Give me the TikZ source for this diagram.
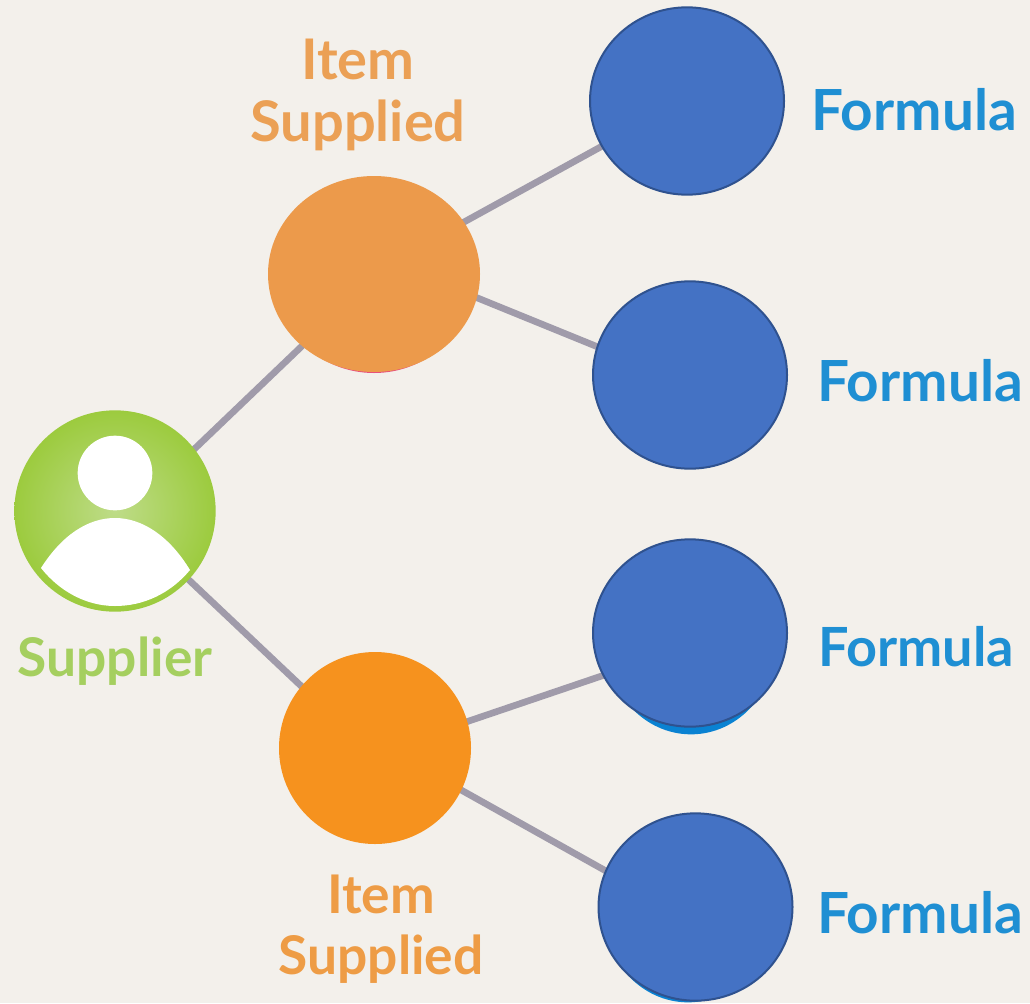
\documentclass[tikz,border=0pt]{standalone}
\usepackage{fontspec}
\setmainfont{Lato}
\usetikzlibrary{shapes.geometric,backgrounds}
\definecolor{pagebg}{HTML}{F3F0EB}
\definecolor{blueFill}{HTML}{4472C4}
\definecolor{blueEdge}{HTML}{2F528F}
\definecolor{cyanUnder}{HTML}{0A82D2}
\definecolor{orangeA}{HTML}{EC9A4B}
\definecolor{orangeB}{HTML}{F6921E}
\definecolor{pinkUnder}{HTML}{E8507A}
\definecolor{linkGrey}{HTML}{A09BAA}
\definecolor{greenOuter}{HTML}{9CCB3E}
\definecolor{greenInner}{HTML}{BEDC88}
\definecolor{greenText}{HTML}{A5CF5F}
\definecolor{orangeText}{HTML}{EBA055}
\definecolor{orangeTextB}{HTML}{EE9C45}
\definecolor{blueText}{HTML}{1F8FD3}
\tikzset{
  x=0.75pt,y=-0.75pt,
  formulaDisc/.style={ellipse,inner sep=0pt,minimum width=145.5pt,minimum height=140.5pt,fill=blueFill,draw=blueEdge,line width=1.5pt},
  underDisc/.style={ellipse,inner sep=0pt,minimum width=128pt,minimum height=140pt,fill=cyanUnder},
  link/.style={draw=linkGrey,line width=5pt,shorten <=-3pt,shorten >=-3pt},
  formulaLabel/.style={font=\fontsize{42.5pt}{42.5pt}\selectfont\bfseries,text=blueText,inner sep=0pt},
  formulaLabelSmall/.style={font=\fontsize{40.5pt}{40.5pt}\selectfont\bfseries,text=blueText,inner sep=0pt},
  itemLabelA/.style={font=\fontsize{42pt}{46.5pt}\selectfont\bfseries,align=center,inner sep=0pt},
  itemLabelB/.style={font=\fontsize{40pt}{46pt}\selectfont\bfseries,align=center,inner sep=0pt},
  supplierLabel/.style={font=\fontsize{40pt}{40pt}\selectfont\bfseries,text=greenText,inner sep=0pt}
}
\begin{document}
\begin{tikzpicture}
\useasboundingbox (0,0) rectangle (1030,1003);
\begin{scope}[on background layer]
  \fill[pagebg] (0,0) rectangle (1030,1003);
\end{scope}
% undersides that show beneath the discs
\node[ellipse,inner sep=0pt,minimum width=150pt,minimum height=147pt,fill=pinkUnder] (o1under) at (374,275) {};
\node[underDisc] (b3under) at (691,641) {};
\node[underDisc] (b4under) at (688,909) {};
% discs
\node[ellipse,inner sep=0pt,minimum width=159pt,minimum height=147pt,fill=orangeA] (o1) at (374,274) {};
\node[circle,inner sep=0pt,minimum size=144pt,fill=orangeB] (o2) at (375,748) {};
\node[formulaDisc] (b1) at (687,101) {};
\node[formulaDisc] (b2) at (690,375) {};
\node[formulaDisc] (b3) at (690,633) {};
\node[formulaDisc] (b4) at (695.5,907) {};
% supplier
\node[circle,inner sep=0pt,minimum size=151pt,inner color=greenInner,outer color=greenOuter] (sup) at (115,511) {};
\node[circle,inner sep=0pt,minimum size=56pt,fill=white] (head) at (115,473) {};
\fill[white] (41,568) .. controls (62,535) and (88,518) .. (115,518)
  .. controls (143,518) and (170,537) .. (190,570)
  .. controls (170,594) and (143,606) .. (115,606)
  .. controls (87,606) and (60,592) .. (41,568) -- cycle;
% connectors
\begin{scope}[on background layer]
  \draw[link] (sup.38) -- (o1.225);
  \draw[link] (sup.-43) -- (o2.140);
  \draw[link] (o1.30) -- (b1.208);
  \draw[link] (o1.-13) -- (b2.163);
  \draw[link] (o2.16) -- (b3.206);
  \draw[link] (o2.-26) -- (b4.158);
\end{scope}
% labels
\node[itemLabelA,text=orangeText] (lab1) at (358,95) {Item\\Supplied};
\node[itemLabelB,text=orangeTextB] (lab2) at (381,929) {Item\\Supplied};
\node[supplierLabel] (lab3) at (115,661) {Supplier};
\node[formulaLabel] (f1) at (914,110) {Formula};
\node[formulaLabel] (f2) at (920,381) {Formula};
\node[formulaLabelSmall] (f3) at (916,647) {Formula};
\node[formulaLabel] (f4) at (920,913) {Formula};
\end{tikzpicture}
\end{document}
